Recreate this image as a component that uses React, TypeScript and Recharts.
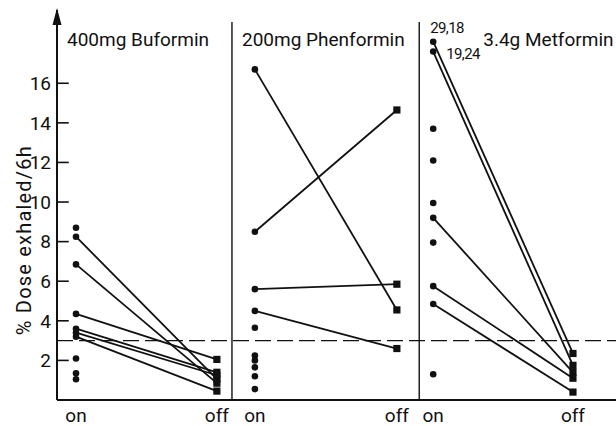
import React from 'react';
import {
  ComposedChart,
  Line,
  Scatter,
  XAxis,
  YAxis,
  ReferenceLine,
  ReferenceDot,
} from 'recharts';

// ---- data ----
const panelTitles = ['400mg Buformin', '200mg Phenformin', '3.4g Metformin'];
const yTicks = [2, 4, 6, 8, 10, 12, 14, 16];
const thresholdValue = 3;

const buforminOn = [8.25, 6.85, 4.35, 3.6, 3.4, 3.2];
const buforminOff = [1.05, 0.85, 2.05, 1.4, 1.25, 0.45];
const buforminOnly = [8.7, 2.1, 1.35, 1.05];

const phenforminOn = [16.7, 8.5, 5.6, 4.5];
const phenforminOff = [4.55, 14.65, 5.85, 2.6];
const phenforminOnly = [3.65, 2.25, 2.0, 1.65, 1.2, 0.55];

const metforminOn = [18.1, 17.6, 9.2, 5.75, 4.85];
const metforminOff = [2.35, 1.75, 1.4, 1.1, 0.4];
const metforminOnly = [13.7, 12.1, 9.95, 7.95, 1.3];

const truncatedLabels = ['29,18', '19,24'];

// ---- layout (x positions of the on/off columns on a 0..100 axis) ----
const Y_MAX = 19.7;
const PANELS = [
  { left: 0, on: 3.4, off: 28.6 },
  { left: 31.3, on: 35.4, off: 60.8 },
  { left: 64.8, on: 67.3, off: 92.3 },
];
const FONT = 'Roboto, "DejaVu Sans", sans-serif';
const INK = '#111';

const groups = [
  { on: buforminOn, off: buforminOff, only: buforminOnly },
  { on: phenforminOn, off: phenforminOff, only: phenforminOnly },
  { on: metforminOn, off: metforminOff, only: metforminOnly },
];

const pairSeries = groups.flatMap((g, pi) =>
  g.on.map((v, i) => ({
    key: `p${pi}-${i}`,
    data: [
      { x: PANELS[pi].on, y: v },
      { x: PANELS[pi].off, y: g.off[i] },
    ],
  }))
);

const singleDots = groups.flatMap((g, pi) =>
  g.only.map((v) => ({ x: PANELS[pi].on, y: v }))
);

const xTicks = PANELS.flatMap((p) => [p.on, p.off]);
const onSet = new Set(PANELS.map((p) => p.on));

const PairDot = (props: any) => {
  const { cx, cy, index } = props;
  if (cx == null || cy == null) return <g key={`d${index}`} />;
  if (index === 0) {
    return <circle key={`c${index}`} cx={cx} cy={cy} r={3.3} fill={INK} />;
  }
  return (
    <rect key={`s${index}`} x={cx - 3.6} y={cy - 3.6} width={7.2} height={7.2} fill={INK} />
  );
};

const DotShape = (props: any) => (
  <circle cx={props.cx} cy={props.cy} r={3.3} fill={INK} />
);

const Arrow = (props: any) => {
  const { cx, cy } = props;
  return (
    <path
      d={`M ${cx} ${cy - 2} L ${cx - 4.5} ${cy + 15} L ${cx + 4.5} ${cy + 15} Z`}
      fill={INK}
    />
  );
};

const makeText =
  (text: string, dx: number, dy: number, size: number, spacing = 0) =>
  (props: any) => (
    <text
      x={props.cx + dx}
      y={props.cy + dy}
      fontFamily={FONT}
      fontSize={size}
      letterSpacing={spacing}
      fill={INK}
      textAnchor="start"
    >
      {text}
    </text>
  );

const YLabel = (props: any) => {
  const vb = props.viewBox || { x: 0, y: 10, width: 57, height: 390 };
  const x = vb.x + 24;
  const y = vb.y + vb.height * 0.59;
  return (
    <text
      x={x}
      y={y}
      transform={`rotate(-90 ${x} ${y})`}
      textAnchor="middle"
      dominantBaseline="central"
      fontFamily={FONT}
      fontSize={20}
      letterSpacing={1.2}
      fill={INK}
    >
      % Dose exhaled/6h
    </text>
  );
};

const titleOffsets = [10, 10, 64];

export default function App() {
  return (
    <div style={{ position: 'absolute', left: 0, top: 0, background: '#fff' }}>
      <ComposedChart
        width={616}
        height={426}
        margin={{ top: 10, right: 0, bottom: 0, left: 0 }}
      >
        <XAxis
          type="number"
          dataKey="x"
          domain={[0, 100]}
          ticks={xTicks}
          interval={0}
          allowDataOverflow
          tickFormatter={(v: number) => (onSet.has(v) ? 'on' : 'off')}
          tickLine={false}
          tickSize={0}
          tickMargin={9}
          height={26}
          axisLine={{ stroke: INK, strokeWidth: 2 }}
          tick={{ fill: INK, fontSize: 19, fontFamily: FONT }}
        />
        <YAxis
          type="number"
          dataKey="y"
          domain={[0, Y_MAX]}
          ticks={yTicks}
          interval={0}
          allowDataOverflow
          width={57}
          tickLine={false}
          tickSize={0}
          tickMargin={6}
          axisLine={{ stroke: INK, strokeWidth: 2 }}
          tick={{ fill: INK, fontSize: 19, fontFamily: FONT }}
          label={<YLabel />}
        />
        {yTicks.map((t) => (
          <ReferenceLine
            key={`yt${t}`}
            segment={[
              { x: 0, y: t },
              { x: 2.1, y: t },
            ]}
            stroke={INK}
            strokeWidth={1.6}
            ifOverflow="visible"
          />
        ))}
        {PANELS.slice(1).map((p, i) => (
          <ReferenceLine
            key={`div${i}`}
            segment={[
              { x: p.left, y: 0 },
              { x: p.left, y: 19.1 },
            ]}
            stroke={INK}
            strokeWidth={1.4}
            ifOverflow="visible"
          />
        ))}
        <ReferenceLine
          y={thresholdValue}
          stroke={INK}
          strokeWidth={1.3}
          strokeDasharray="16 6"
        />
        {pairSeries.map((s) => (
          <Line
            key={s.key}
            data={s.data}
            dataKey="y"
            type="linear"
            stroke={INK}
            strokeWidth={1.8}
            dot={PairDot}
            activeDot={false}
            isAnimationActive={false}
          />
        ))}
        <Scatter data={singleDots} dataKey="y" shape={DotShape} isAnimationActive={false} />
        <ReferenceDot x={0} y={Y_MAX} r={0} ifOverflow="visible" shape={Arrow} />
        {PANELS.map((p, i) => (
          <ReferenceDot
            key={`title${i}`}
            x={p.left}
            y={Y_MAX}
            r={0}
            ifOverflow="visible"
            shape={makeText(panelTitles[i], titleOffsets[i], 36, 19)}
          />
        ))}
        <ReferenceDot
          x={PANELS[2].on}
          y={metforminOn[0]}
          r={0}
          ifOverflow="visible"
          shape={makeText(truncatedLabels[0], -3, -9, 15, -0.6)}
        />
        <ReferenceDot
          x={PANELS[2].on}
          y={metforminOn[1]}
          r={0}
          ifOverflow="visible"
          shape={makeText(truncatedLabels[1], 13, 7, 15, -0.6)}
        />
      </ComposedChart>
    </div>
  );
}
